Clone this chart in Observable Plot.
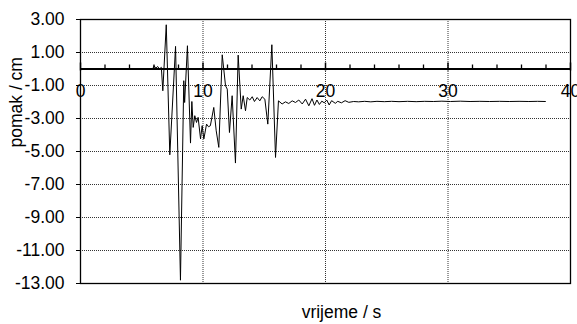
<!DOCTYPE html>
<html><head><meta charset="utf-8">
<script src="https://cdn.jsdelivr.net/npm/d3@7"></script>
<script src="https://cdn.jsdelivr.net/npm/@observablehq/plot@0.6"></script>
<style>body{margin:0;background:#fff;}</style>
</head><body><div id="chart"></div>
<script>
const time = [0, 5.9, 6.0, 6.15, 6.3, 6.45, 6.6, 6.72, 7.0, 7.29, 7.76, 8.16, 8.43, 8.5, 8.73, 8.98, 9.09, 9.2, 9.33, 9.47, 9.6, 9.8, 9.93, 10.07, 10.29, 10.45, 10.6, 10.88, 11.08, 11.29, 11.57, 11.84, 11.98, 12.16, 12.38, 12.65, 12.87, 13.12, 13.28, 13.47, 13.61, 13.82, 14.02, 14.2, 14.42, 14.64, 14.83, 15.05, 15.29, 15.62, 15.92, 16.16, 16.46, 16.73, 17.0, 17.28, 17.55, 17.82, 18.1, 18.37, 18.64, 18.9, 19.1, 19.3, 19.5, 19.7, 19.9, 20.1, 20.3, 20.5, 20.8, 21.0, 21.3, 21.6, 21.9, 22.3, 22.7, 23.2, 23.7, 24.2, 24.8, 25.4, 26.0, 26.7, 27.4, 28.1, 28.8, 29.5, 30.2, 31.0, 31.8, 32.6, 33.4, 34.2, 35.0, 35.8, 36.6, 37.3, 37.95];
const displacement = [0, 0, 0.2, 0.05, 0.15, 0.0, 0.1, -1.32, 2.68, -5.2, 1.37, -12.8, -0.71, -2.03, 1.41, -4.49, -1.97, -3.54, -2.83, -3.24, -2.93, -4.24, -3.44, -4.24, -3.34, -3.5, -3.44, -2.33, -3.75, -4.75, 0.86, -1.02, -1.22, -3.85, -1.62, -5.7, 0.84, -2.43, -1.62, -2.53, -1.73, -1.88, -1.68, -1.97, -1.73, -1.93, -1.68, -1.83, -3.34, 1.47, -5.36, -1.93, -2.12, -1.99, -2.09, -1.93, -2.03, -1.88, -2.12, -1.83, -2.23, -1.8, -2.2, -1.88, -2.15, -1.95, -2.05, -1.88, -2.18, -1.92, -2.08, -1.96, -2.05, -1.92, -2.02, -1.97, -1.99, -1.96, -1.99, -1.96, -1.98, -1.96, -1.98, -1.96, -1.98, -1.96, -1.97, -1.95, -1.97, -1.95, -1.97, -1.96, -1.97, -1.96, -1.97, -1.96, -1.97, -1.96, -1.97];
const yTicks = [-13, -11, -9, -7, -5, -3, -1, 1, 3];
const xMajorTicks = [0, 10, 20, 30, 40];
const xMinorTicks = [2, 4, 6, 8, 12, 14, 16, 18, 22, 24, 26, 28, 32, 34, 36, 38];
const xGridTicks = [10, 20, 30];
const xLabel = "vrijeme / s";
const yLabel = "pomak / cm";

const data = time.map((t, i) => ({t, v: displacement[i]}));
const grid = {stroke: "#333", strokeOpacity: 1, strokeDasharray: "1,1", strokeWidth: 1};

const chart = Plot.plot({
  width: 577, height: 324,
  marginLeft: 80, marginRight: 7, marginTop: 19, marginBottom: 41,
  style: {fontFamily: "'Liberation Sans', Arial, sans-serif", fontSize: "17.5px", background: "#fff", color: "#000"},
  x: {domain: [0, 40], axis: null},
  y: {domain: [-13, 3]},
  marks: [
    Plot.gridY(yTicks, grid),
    Plot.gridX(xGridTicks, grid),
    Plot.frame({stroke: "#000", strokeWidth: 1.3}),
    Plot.axisY(yTicks, {tickSize: 4, tickPadding: 12, tickFormat: d => d.toFixed(2), label: null, fill: "#000"}),
    Plot.ruleY([0], {stroke: "#000", strokeWidth: 2}),
    Plot.ruleX(xMinorTicks, {x: d => d, y1: 0, y2: 0, insetTop: -4, stroke: "#000", strokeWidth: 1.3}),
    Plot.ruleX(xMajorTicks, {x: d => d, y1: 0, y2: 0, insetTop: -6, insetBottom: -2, stroke: "#000", strokeWidth: 1.5}),
    Plot.text(xMajorTicks, {x: d => d, y: 0, text: d => String(d), dy: 22, fill: "#000"}),
    Plot.line(data, {x: "t", y: "v", stroke: "#000", strokeWidth: 1}),
    Plot.text([yLabel], {frameAnchor: "left", text: d => d, rotate: -90, dx: -59, dy: -4, lineAnchor: "bottom", fill: "#000"}),
    Plot.text([xLabel], {frameAnchor: "bottom", text: d => d, dx: 16, dy: 34, lineAnchor: "bottom", fill: "#000"})
  ]
});
document.getElementById("chart").appendChild(chart);
</script>
</body></html>
